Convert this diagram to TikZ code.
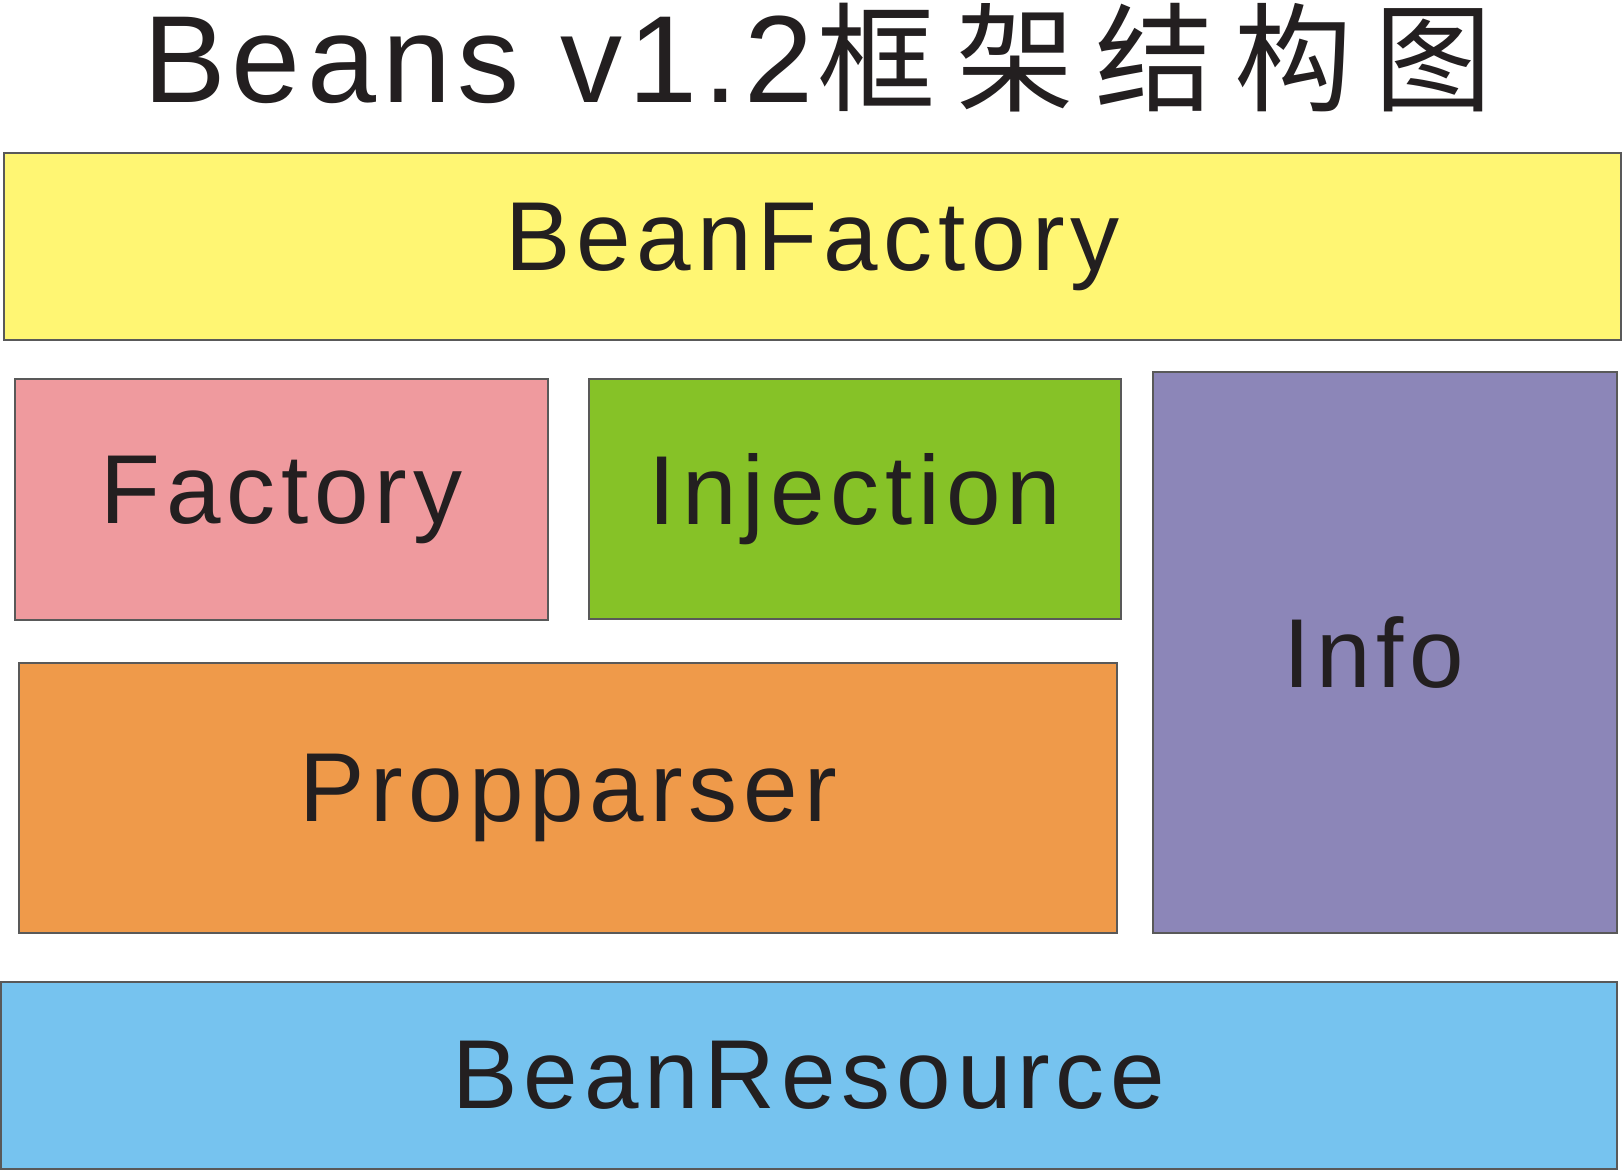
\documentclass[tikz,border=0pt]{standalone}
\usepackage{fontspec}
\setmainfont{Liberation Sans}[LetterSpace=6]
\newfontfamily\titlefont{Liberation Sans}[LetterSpace=5]
\newfontfamily\cjk{Noto Sans CJK SC}[LetterSpace=18]
\definecolor{inkdark}{RGB}{35,31,32}
\definecolor{factyellow}{RGB}{255,246,115}
\definecolor{factpink}{RGB}{239,154,158}
\definecolor{injgreen}{RGB}{134,194,39}
\definecolor{infopurple}{RGB}{140,134,184}
\definecolor{parsorange}{RGB}{239,154,74}
\definecolor{resblue}{RGB}{118,195,239}
\tikzset{layer/.style={draw=black!65,line width=1.3pt,inner sep=0pt,text=inkdark,
    font=\fontsize{98}{110}\selectfont}}
\begin{document}
\begin{tikzpicture}[x=1pt,y=-1pt]
	\useasboundingbox (0,0) rectangle (1622,1171);
	\node[anchor=base west,inner sep=0pt,text=inkdark] (title) at (143,102)
		{\titlefont\fontsize{124}{130}\selectfont Beans v1.2\cjk\fontsize{118}{130}\selectfont\hspace{4pt}框架结构图};
	\node[layer,fill=factyellow,minimum width=1617,minimum height=187] (beanfactory) at (812.5,246.5) {BeanFactory};
	\node[layer,fill=factpink,minimum width=533,minimum height=241] (factory) at (281.5,499.5) {Factory};
	\node[layer,fill=injgreen,minimum width=532,minimum height=240] (injection) at (855,499) {Injection};
	\node[layer,fill=infopurple,minimum width=464,minimum height=561] (info) at (1385,652.5) {Info\kern22pt};
	\node[layer,fill=parsorange,minimum width=1098,minimum height=270] (propparser) at (568,798) {Propparser};
	\node[layer,fill=resblue,minimum width=1616,minimum height=187] (beanresource) at (809,1075.5) {BeanResource};
\end{tikzpicture}
\end{document}
